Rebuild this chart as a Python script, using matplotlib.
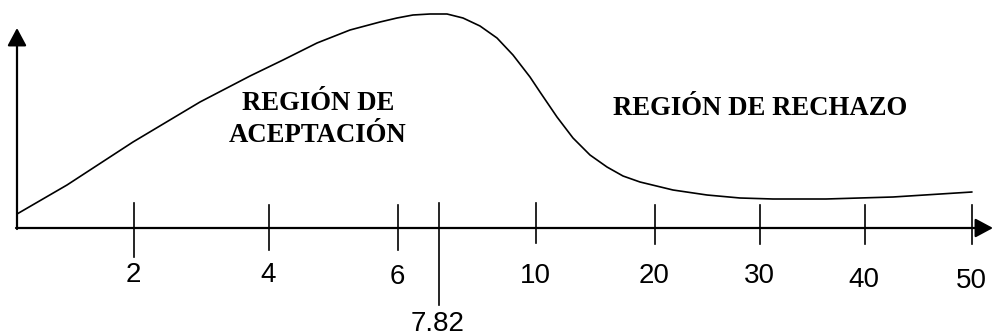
import matplotlib
matplotlib.use('Agg')
import matplotlib.pyplot as plt

# curve drawn in the sketch (horizontal position along axis, height above axis)
curve_x = [0, 50, 116, 183, 233, 266, 300, 333, 363, 380, 396, 413, 430, 446, 463, 480,
           496, 513, 523, 540, 556, 573, 590, 606, 623, 656, 690, 723, 756, 809, 876, 955]
curve_h = [14, 43, 86, 126, 152, 168, 185, 198, 206, 210, 213, 214, 214, 210, 202, 190,
           173, 151, 136, 111, 90, 73, 61, 52, 46, 38, 33, 30, 29, 29, 31, 36]

# chi-square values marked on the axis and where they sit on it
tick_labels = ['2', '4', '6', '7.82', '10', '20', '30', '40', '50']
tick_pos = [117, 252, 381, 422, 519, 638, 743, 848, 955]

accept_text = ['REGIÓN DE', 'ACEPTACIÓN']
reject_text = 'REGIÓN DE RECHAZO'

fig = plt.figure(figsize=(9.93, 3.34), dpi=100)
ax = fig.add_axes([0, 0, 1, 1])
ax.set_xlim(-17, 976)
ax.set_ylim(-106, 228)
ax.axis('off')

# axes with arrow heads
arrow = dict(arrowstyle='-|>,head_length=1.08,head_width=0.58', mutation_scale=10,
             lw=1.6, color='black', shrinkA=0, shrinkB=0)
ax.annotate('', xy=(0, 200), xytext=(0, -1), arrowprops=arrow)
ax.annotate('', xy=(976, 0), xytext=(-1, 0), arrowprops=arrow)

ax.plot(curve_x, curve_h, color='black', lw=1.2, solid_joinstyle='round',
        solid_capstyle='round')

# tick marks: top and bottom of each little line
tick_top = [25, 23, 23, 25, 25, 23, 23, 23, 23]
tick_bot = [-29, -22, -22, -77, -15, -16, -16, -16, -16]
label_base = [-54, -54, -56, -103, -55, -55, -55, -59, -60]
for p, t, b, lab, yb in zip(tick_pos, tick_top, tick_bot, tick_labels, label_base):
    ax.plot([p, p], [b, t], color='black', lw=1.2)
    ax.text(p - 1, yb, lab, ha='center', va='baseline', fontsize=20,
            family='Liberation Sans')

serif = dict(ha='center', va='baseline', fontsize=19.3, fontweight='bold',
             family='Liberation Serif')
ax.text(301, 118, accept_text[0], **serif)
ax.text(301, 86, accept_text[1], **serif)
ax.text(743, 113, reject_text, **serif)

plt.savefig('out.png', dpi=100)
